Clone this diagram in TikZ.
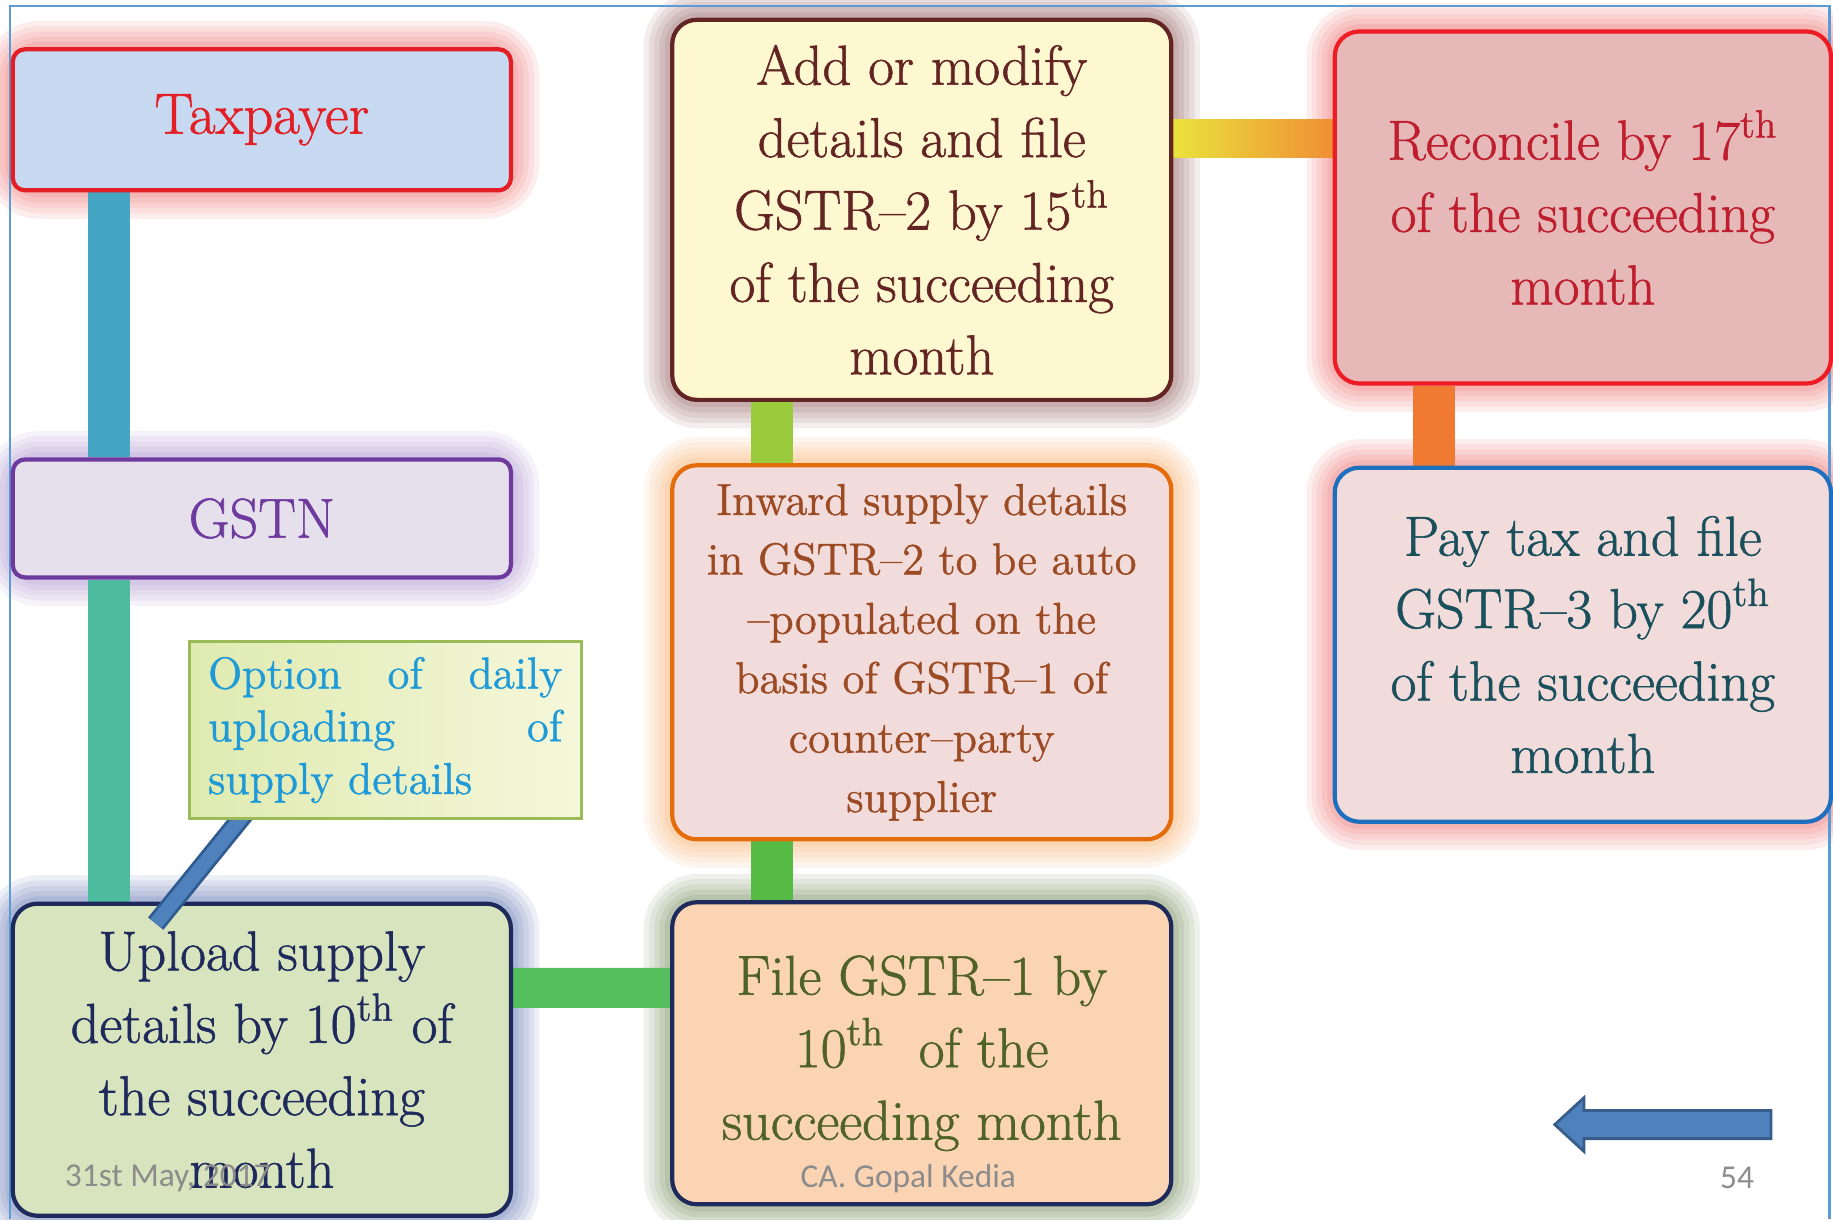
\documentclass[tikz,border=0pt]{standalone}
\usepackage{fontspec}
\newfontfamily\footfont{Carlito}
\newfontfamily\boxfont[AutoFakeBold=1.0]{Latin Modern Roman}
\usepackage{xcolor}
\definecolor{taxfill}{HTML}{C6D9F1}
\definecolor{taxred}{HTML}{E31E24}
\definecolor{taxglow}{HTML}{F08A8A}
\definecolor{gstnfill}{HTML}{E6E0EC}
\definecolor{gstnpurple}{HTML}{6E3A9E}
\definecolor{gstnglow}{HTML}{B9A3D6}
\definecolor{uplfill}{HTML}{D7E4BD}
\definecolor{navy}{HTML}{1F2A5C}
\definecolor{uplglow}{HTML}{7D8CBF}
\definecolor{optleft}{HTML}{DFEAB0}
\definecolor{optright}{HTML}{F5F7DA}
\definecolor{optgreen}{HTML}{9BBB59}
\definecolor{opttext}{HTML}{1E9AD8}
\definecolor{addfill}{HTML}{FEF8D0}
\definecolor{addbrown}{HTML}{632523}
\definecolor{addglow}{HTML}{A87F7F}
\definecolor{inwfill}{HTML}{F2DCDB}
\definecolor{inworange}{HTML}{E46C0A}
\definecolor{inwbrown}{HTML}{9C4A23}
\definecolor{inwglow}{HTML}{F9BE8A}
\definecolor{gfofill}{HTML}{FBD4B4}
\definecolor{gfoolive}{HTML}{4F6228}
\definecolor{gfoglow}{HTML}{8EA27A}
\definecolor{recfill}{HTML}{E6B9B8}
\definecolor{recred}{HTML}{EE1C24}
\definecolor{rectext}{HTML}{BE1E2D}
\definecolor{payfill}{HTML}{F2DCDB}
\definecolor{payblue}{HTML}{1F6FBF}
\definecolor{payteal}{HTML}{1A4F5C}
\definecolor{taxblue}{HTML}{45A6C4}
\definecolor{tealgreen}{HTML}{4DBB9E}
\definecolor{greenone}{HTML}{55BF5E}
\definecolor{limegreen}{HTML}{9ACB3C}
\definecolor{greentwo}{HTML}{55BB45}
\definecolor{yellowbar}{HTML}{EAE23C}
\definecolor{orangebar}{HTML}{F07A32}
\definecolor{arrowfill}{HTML}{4F81BD}
\definecolor{arrowline}{HTML}{385D8A}
\definecolor{diagline}{HTML}{2F5B90}
\definecolor{footgray}{HTML}{8C8C8C}
\definecolor{framecol}{HTML}{5B9BD5}
\pgfdeclarelayer{glow}
\pgfdeclarelayer{bars}
\pgfdeclarelayer{front}
\pgfsetlayers{glow,bars,main,front}

\begin{document}
\begin{tikzpicture}[
      x=0.01169cm, y=-0.01169cm,
      gbox/.style={draw, rounded corners=7pt, line width=1.2pt, align=center,
                   minimum width=4.98cm, inner sep=0pt,
                   font=\boxfont\bfseries\fontsize{16}{20.6}\selectfont},
      smalltext/.style={font=\boxfont\bfseries\fontsize{12.7}{16.9}\selectfont},
      conn/.style={line width=0.42cm},
      foot/.style={font=\footfont\fontsize{9.5}{11}\selectfont, text=footgray, inner sep=0pt},
    ]
    \useasboundingbox (0,0) rectangle (1568,1043);
    \draw[framecol, line width=0.6pt] (8.5,1043) -- (8.5,5) -- (1565,5) -- (1565,1043);

    \node[gbox, rounded corners=3.5pt, fill=taxfill, draw=taxred, text=taxred,
          minimum height=1.41cm, font=\boxfont\bfseries\fontsize{16.5}{20}\selectfont] (tax) at (224,102.5) {Taxpayer};
    \node[gbox, rounded corners=3.5pt, fill=gstnfill, draw=gstnpurple, text=gstnpurple,
          minimum height=1.18cm] (gstn) at (224,443.5) {GSTN};
    \node[gbox, fill=uplfill, draw=navy, text=navy, minimum height=3.12cm] (upl) at (224,906.5)
      {Upload supply\\details by 10\textsuperscript{th} of\\the succeeding\\month};

    \node[gbox, minimum width=4.99cm, fill=addfill, draw=addbrown, text=addbrown,
          minimum height=3.80cm] (add) at (788.5,179.5)
      {Add or modify\\details and file\\GSTR–2 by 15\textsuperscript{th}\\of the succeeding\\month};
    \node[gbox, smalltext, minimum width=4.99cm, fill=inwfill, draw=inworange, text=inwbrown,
          minimum height=3.74cm] (inw) at (788.5,558)
      {Inward supply details\\in GSTR–2 to be auto\\–populated on the\\basis of GSTR–1 of\\counter–party\\supplier};
    \node[gbox, minimum width=4.99cm, fill=gfofill, draw=navy, text=gfoolive,
          minimum height=3.02cm] (gfo) at (788.5,901)
      {File GSTR–1 by\\10\textsuperscript{th}\ \ of the\\succeeding month};

    \node[gbox, minimum width=4.96cm, fill=recfill, draw=recred, text=rectext,
          minimum height=3.52cm] (rec) at (1354,177.5)
      {Reconcile by 17\textsuperscript{th}\\of the succeeding\\month};
    \node[gbox, minimum width=4.96cm, fill=payfill, draw=payblue, text=payteal,
          minimum height=3.54cm] (pay) at (1354,551.5)
      {Pay tax and file\\GSTR–3 by 20\textsuperscript{th}\\of the succeeding\\month};

    \begin{pgfonlayer}{front}
      \node[draw=optgreen, line width=0.8pt, left color=optleft, right color=optright,
            minimum width=3.92cm, minimum height=1.77cm, text width=3.54cm, align=justify,
            text=opttext, font=\boxfont\bfseries\fontsize{12.7}{15}\selectfont, inner sep=0pt] (opt) at (329.5,624.5)
        {Option of daily\linebreak uploading of\linebreak supply details};
    \end{pgfonlayer}

    % soft halo round the boxes
    \begin{pgfonlayer}{glow}
      \foreach \n/\c in {tax/taxglow, gstn/gstnglow, upl/uplglow, add/addglow,
                         inw/inwglow, gfo/gfoglow, rec/taxglow, pay/taxglow}
        \foreach \w/\o in {15/0.14, 12/0.15, 9/0.17, 6/0.2, 3/0.25}
          \draw[\c, line width=\w pt, opacity=\o, rounded corners=8pt]
            (\n.south west) rectangle (\n.north east);
    \end{pgfonlayer}

    \begin{pgfonlayer}{bars}
      \draw[conn, taxblue] ([xshift=0.98cm]tax.south west) -- ([xshift=0.98cm]gstn.north west);
      \draw[conn, tealgreen] ([xshift=0.98cm]gstn.south west) -- ([xshift=0.98cm]upl.north west);
      \draw[conn, greenone, line width=0.40cm] ([yshift=0.719cm]upl.east) -- ([yshift=0.655cm]gfo.west);
      \draw[conn, limegreen] ([xshift=1.02cm]add.south west) -- ([xshift=1.02cm]inw.north west);
      \draw[conn, greentwo] ([xshift=1.02cm]inw.south west) -- ([xshift=1.02cm]gfo.north west);
      \shade[left color=yellowbar, middle color=yellowbar, right color=orangebar!80!yellowbar]
        ([yshift=0.906cm]add.east) rectangle ([yshift=0.497cm]rec.west);
      \draw[conn, orangebar] ([xshift=1.01cm]rec.south west) -- ([xshift=1.01cm]pay.north west);
    \end{pgfonlayer}

    \draw[diagline, line width=5.6pt] ([xshift=0.6cm, yshift=0.1cm]opt.south west)
      -- ([xshift=1.45cm, yshift=-0.22cm]upl.north west);
    \draw[arrowfill, line width=4pt] ([xshift=0.6cm, yshift=0.1cm]opt.south west)
      -- ([xshift=1.45cm, yshift=-0.22cm]upl.north west);

    \draw[arrowline, fill=arrowfill, line width=0.8pt]
      (1330,962) -- (1355,939) -- (1355,950) -- (1515,950) -- (1515,974)
      -- (1355,974) -- (1355,985) -- cycle;

    \node[foot, anchor=west] (date) at (55,1008) {31st May, 2017};
    \node[foot] (auth) at (777,1008) {CA. Gopal Kedia};
    \node[foot] (page) at (1486,1008) {54};
  \end{tikzpicture}
\end{document}
